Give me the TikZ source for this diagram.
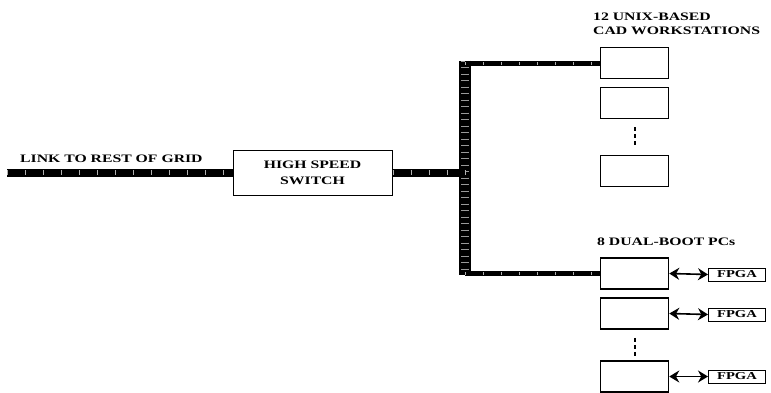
\documentclass[tikz,border=0pt]{standalone}
\usepackage{fontspec}
\setmainfont{Liberation Serif}
\newfontfamily\widefont[FakeStretch=1.38]{Liberation Serif}
\usetikzlibrary{arrows.meta,calc,positioning}
\tikzset{lbl/.style={font=\widefont\fontsize{11.4}{14}\selectfont\bfseries,inner sep=0pt,align=left},
  host/.style={draw,line width=1.5pt,minimum width=68pt,minimum height=31pt,inner sep=0pt},
  fpga/.style={draw,line width=1pt,minimum width=57pt,minimum height=13pt,inner sep=0pt,font=\widefont\fontsize{10.6}{12}\selectfont\bfseries},
  bus/.style={line width=8pt,postaction={draw=white!70!black,line width=5pt,dash pattern=on 0.5pt off 17.5pt}},
  trunk/.style={line width=12pt,postaction={draw=white!60!black,line width=8pt,dash pattern=on 0.5pt off 6pt}},
  branch/.style={line width=5pt,postaction={draw=white!70!black,line width=3pt,dash pattern=on 0.5pt off 17.5pt}},
  vdots/.style={line width=2pt,dash pattern=on 4pt off 3pt},
  link/.style={{Stealth[length=10pt,width=12pt]}-{Stealth[length=10pt,width=12pt]},line width=1.6pt}}

\begin{document}
\begin{tikzpicture}[x=1pt,y=-1pt]
\useasboundingbox (0,0) rectangle (771,392);
% switch and uplink
\node[draw,line width=1pt,minimum width=159pt,minimum height=45pt,align=center,
  font=\widefont\fontsize{11.4}{16}\selectfont\bfseries] (sw) at (312.5,172.5) {HIGH SPEED\\SWITCH};
\coordinate (gridend) at (7,172.5);
\node[lbl,anchor=base west] (gridlbl) at (20,162) {LINK TO REST OF GRID};
\draw[bus] (gridend) -- (sw.west);
% workstations
\node[host] (ws1) at (634.5,63) {};
\node[host] (ws2) at (634.5,103) {};
\node[host] (ws3) at (634.5,171) {};
\node[lbl,anchor=north west] (wslbl) at (593,13) {12 UNIX-BASED\\CAD WORKSTATIONS};
\draw[vdots,shorten <=8pt,shorten >=8pt] (ws2.south) -- (ws3.north);
% dual-boot pcs
\node[host] (pc1) at (634.5,273.5) {};
\node[host] (pc2) at (634.5,313.5) {};
\node[host] (pc3) at (634.5,376.5) {};
\node[lbl,anchor=base west] (pclbl) at (597,245) {8 DUAL-BOOT PCs};
\draw[vdots,shorten <=8pt,shorten >=4pt] (pc2.south) -- (pc3.north);
\node[fpga] (f1) at (737,274.5) {FPGA};
\node[fpga] (f2) at (737,314.5) {FPGA};
\node[fpga] (f3) at (737,376.5) {FPGA};
\foreach \i in {1,2,3}
  \draw[link] (pc\i.east) -- (f\i.west);
% backbone
\coordinate (tt) at (465,60.5);
\coordinate (tb) at (465,275);
\draw[trunk] (tt) -- (tb);
\draw[bus] (sw.east) -- (sw.east -| tt);
\draw[branch] (ws1.west -| tt) -- (ws1.west);
\draw[branch] (pc1.west -| tt) -- (pc1.west);
\end{tikzpicture}
\end{document}
